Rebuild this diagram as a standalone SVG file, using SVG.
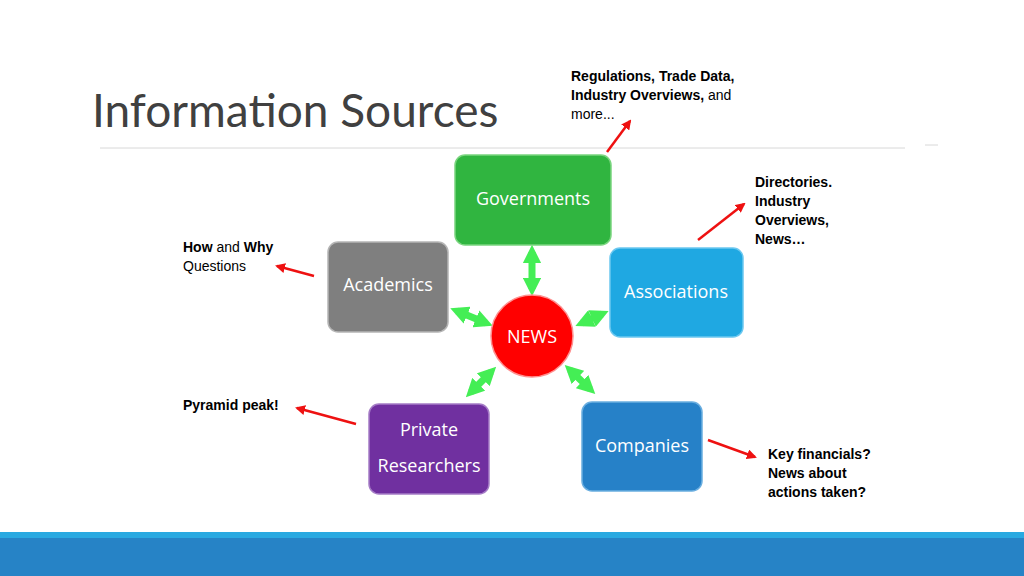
<svg xmlns="http://www.w3.org/2000/svg" width="1024" height="576" viewBox="0 0 1024 576">
<style>
.n{stroke-width:1.5;}
.nt{font-family:"Open Sans","DejaVu Sans",sans-serif;font-size:18px;fill:#fff;text-anchor:middle}
.lb{font-family:"Liberation Sans",Arial,sans-serif;font-size:14px;fill:#000}
.b{font-weight:bold}
.g{stroke:#44ee55;stroke-width:7;fill:none;marker-start:url(#ga);marker-end:url(#ga)}
.r{stroke:#ee1111;stroke-width:2.5;fill:none;marker-end:url(#ra)}
</style>
<defs>
<marker id="ga" viewBox="0 0 10 10" refX="6" refY="5" markerWidth="2.6" markerHeight="2.6" orient="auto-start-reverse"><path d="M0,0L10,5L0,10z" fill="#44ee55"/></marker>
<marker id="ra" viewBox="0 0 10 10" refX="8" refY="5" markerWidth="4" markerHeight="4" orient="auto"><path d="M0,0L10,5L0,10z" fill="#ee1111"/></marker>
</defs>
<rect width="1024" height="576" fill="#fff"/>
<text x="92" y="127" font-family="Lato,'Open Sans',sans-serif" font-size="46" fill="#404040">Information Sources</text>
<line x1="100" y1="148" x2="905" y2="148" stroke="#d8d8d8" stroke-width="1"/>
<line x1="925" y1="145" x2="938" y2="145" stroke="#d8d8d8" stroke-width="1"/>
<rect x="0" y="532" width="1024" height="6" fill="#29a9e1"/>
<rect x="0" y="538" width="1024" height="38" fill="#2683c6"/>
<g id="connectors">
<line class="g" x1="532" y1="252" x2="532" y2="289"/>
<line class="g" x1="457" y1="311" x2="486" y2="323"/>
<line class="g" x1="582" y1="323" x2="602" y2="314"/>
<line class="g" x1="471" y1="392" x2="491" y2="372"/>
<line class="g" x1="570" y1="370" x2="590" y2="389"/>
<line class="r" x1="607" y1="152" x2="630" y2="121"/>
<line class="r" x1="698" y1="240" x2="744" y2="204"/>
<line class="r" x1="314" y1="276" x2="277" y2="266"/>
<line class="r" x1="356" y1="424" x2="297" y2="408"/>
<line class="r" x1="708" y1="440" x2="755" y2="457"/>
</g>
<g id="governments"><rect class="n" x="455" y="155" width="156" height="90" rx="10" fill="#30b540" stroke="#7ad57f"/><text class="nt" x="533" y="205">Governments</text></g>
<g id="academics"><rect class="n" x="328" y="242" width="120" height="90" rx="10" fill="#7f7f7f" stroke="#b5b5b5"/><text class="nt" x="388" y="291">Academics</text></g>
<g id="associations"><rect class="n" x="610" y="248" width="133" height="89" rx="10" fill="#1fa8e2" stroke="#6cc8f0"/><text class="nt" x="676" y="298">Associations</text></g>
<g id="private"><rect class="n" x="369" y="404" width="120" height="90" rx="10" fill="#7030a0" stroke="#a57cc6"/><text class="nt" x="429" y="436">Private</text><text class="nt" x="429" y="472">Researchers</text></g>
<g id="companies"><rect class="n" x="582" y="402" width="120" height="89" rx="10" fill="#2681c8" stroke="#6aaee0"/><text class="nt" x="642" y="452">Companies</text></g>
<g id="news"><circle cx="532" cy="336" r="41" fill="#f00" stroke="#ff9090" stroke-width="1.5"/><text class="nt" x="532" y="343" font-size="20">NEWS</text></g>
<g id="labels">
<text class="lb" x="571" y="81"><tspan class="b">Regulations, Trade Data,</tspan><tspan x="571" dy="19" class="b">Industry Overviews,</tspan><tspan> and</tspan><tspan x="571" dy="19">more...</tspan></text>
<text class="lb b" x="755" y="187">Directories.<tspan x="755" dy="19">Industry</tspan><tspan x="755" dy="19">Overviews,</tspan><tspan x="755" dy="19">News…</tspan></text>
<text class="lb" x="183" y="252"><tspan class="b">How</tspan> and <tspan class="b">Why</tspan><tspan x="183" dy="19">Questions</tspan></text>
<text class="lb b" x="183" y="410">Pyramid peak!</text>
<text class="lb b" x="768" y="459">Key financials?<tspan x="768" dy="19">News about</tspan><tspan x="768" dy="19">actions taken?</tspan></text>
</g>
</svg>
